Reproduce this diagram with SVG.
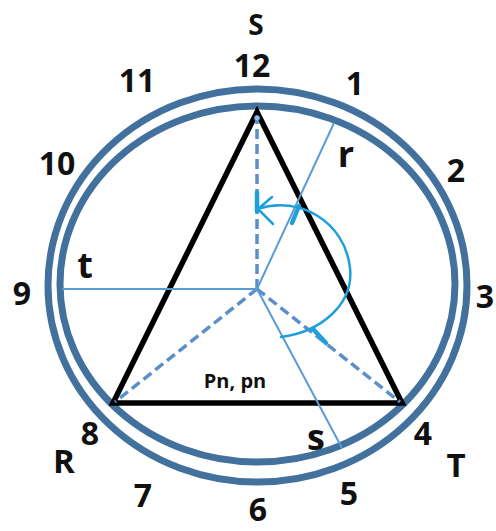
<svg xmlns="http://www.w3.org/2000/svg" width="496" height="531" viewBox="0 0 496 531">
<style>
.ring{fill:none;stroke:#41719C;stroke-width:7}
.tri{fill:none;stroke:#000;stroke-width:5.5;stroke-linejoin:miter}
.dash{fill:none;stroke:#5B8FC8;stroke-width:3.5;stroke-dasharray:10 5}
.thin{fill:none;stroke:#5B9BD5;stroke-width:2}
.arc{fill:none;stroke:#1F9FDB;stroke-width:2.5;stroke-linecap:round;stroke-linejoin:round}
.tick{fill:none;stroke:#1F9FDB;stroke-width:4.5;stroke-linecap:round}
text{font-family:"Open Sans","Liberation Sans",sans-serif;font-weight:700;fill:#111;text-anchor:middle}
.num{font-size:32px}
.big{font-size:30px}
.low{font-size:36px}
.pn{font-size:20px}
</style>
<rect width="496" height="531" fill="#fff"/>
<g id="clock-face">
<ellipse class="ring" cx="257.5" cy="285.5" rx="209.5" ry="196.5"/>
<ellipse class="ring" cx="257.5" cy="284" rx="197.5" ry="178"/>
</g>
<g id="triangle">
<polygon class="tri" points="257,112 113,403 402,403"/>
</g>
<g id="connectors">
<line class="dash" x1="257" y1="289" x2="257" y2="118"/>
<line class="dash" x1="257" y1="289" x2="115" y2="402"/>
<line class="dash" x1="257" y1="289" x2="400" y2="402"/>
<line class="thin" x1="257" y1="289" x2="62" y2="289"/>
<line class="thin" x1="257" y1="289" x2="334" y2="123"/>
<line class="thin" x1="257" y1="289" x2="342" y2="448"/>
<circle cx="257" cy="118" r="2.5" fill="#9CC3E6" stroke="#5B9BD5" stroke-width="1"/>
<path class="arc" d="M257,209 C300,195 345,222 350,268 C354,305 320,332 281,337"/>
<polyline class="arc" points="272,197 258,209 273,224"/>
<line class="tick" x1="257" y1="193" x2="257" y2="211"/>
<line class="tick" x1="299" y1="206" x2="292" y2="223"/>
<line class="tick" x1="313" y1="329" x2="326" y2="343"/>
</g>
<g id="labels">
<text class="big" x="256" y="35" style="font-size:28px">S</text>
<text class="num" x="252" y="77">12</text>
<text class="num" x="137" y="92">11</text>
<text class="num" x="355" y="95">1</text>
<text class="num" x="57" y="175">10</text>
<text class="num" x="456" y="182">2</text>
<text class="num" x="485" y="308">3</text>
<text class="num" x="22" y="305">9</text>
<text class="num" x="423" y="445">4</text>
<text class="num" x="90" y="445">8</text>
<text class="num" x="143" y="507">7</text>
<text class="num" x="258" y="521">6</text>
<text class="num" x="349" y="505">5</text>
<text class="big" x="64" y="473" style="font-size:33px">R</text>
<text class="big" x="456" y="477" style="font-size:33px">T</text>
<text class="low" x="346" y="167">r</text>
<text class="low" x="85" y="278">t</text>
<text class="low" x="316" y="450">s</text>
<text class="pn" x="235" y="388">Pn, pn</text>
</g>
</svg>
